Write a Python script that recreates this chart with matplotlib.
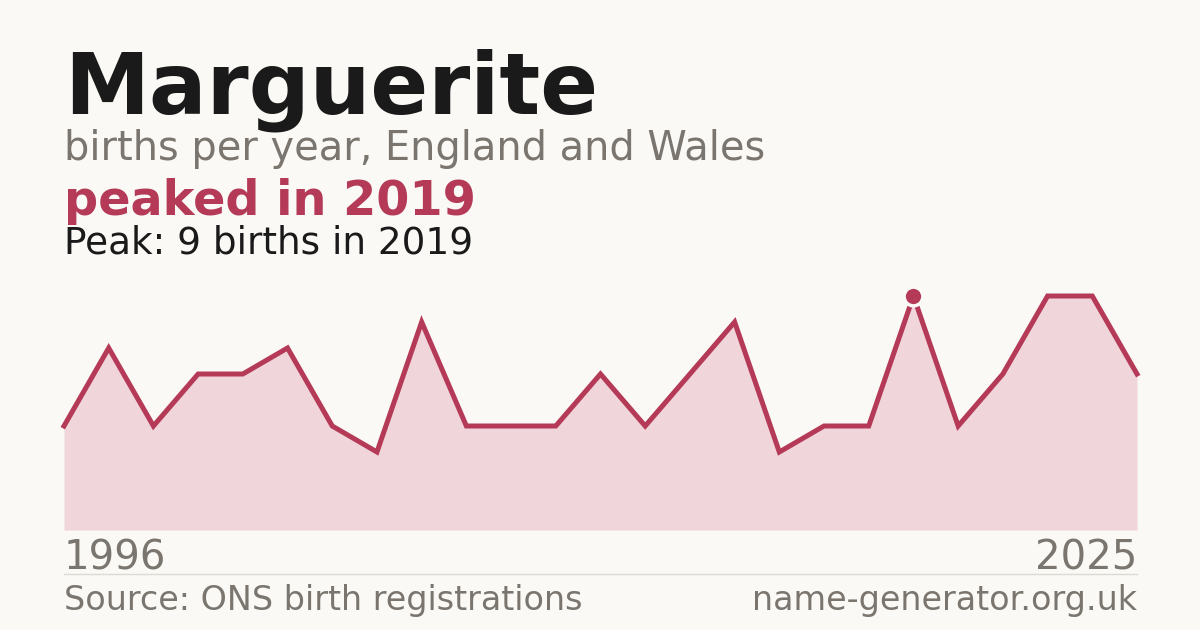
import numpy as np
from matplotlib import pyplot as plt

plt.rcParams['font.family'] = ['DejaVu Sans']

# data
name = 'Marguerite'
years = [1996, 1997, 1998, 2000, 2001, 2002, 2003, 2005, 2006, 2007, 2008,
         2010, 2011, 2012, 2013, 2014, 2015, 2016, 2018, 2019,
         2020, 2022, 2023, 2024, 2025]
births = [4, 7, 4, 6, 6, 7, 4, 3, 8, 4, 4,
          4, 6, 4, 6, 8, 3, 4, 4, 9,
          4, 6, 9, 9, 6]

bg = '#faf9f5'
crimson = '#b43a58'
fill = '#f0d5da'
grey = '#7a756e'
ink = '#1a1a1a'

W, H = 1200, 630
fig = plt.figure(figsize=(12, 6.3), dpi=100)
fig.patch.set_facecolor(bg)

def fx(px):
    return px / W

def fy(py):
    return 1 - py / H

ax = fig.add_axes([fx(64), fy(530), fx(1137) - fx(64), fy(296) - fy(530)])
ax.set_facecolor('none')
x = np.arange(len(births))
ax.fill_between(x, 0, births, color=fill, lw=0, zorder=1)
ax.plot(x, births, color=crimson, lw=3.6, solid_joinstyle='miter', zorder=2, clip_on=False)

peak_i = int(np.argmax(births))
ax.plot(x[peak_i], births[peak_i], 'o', ms=13.5, mfc=crimson, mec=bg, mew=2.5,
        zorder=3, clip_on=False)

ax.set_xlim(0, len(births) - 1)
ax.set_ylim(0, max(births))
ax.axis('off')

peak_year = years[peak_i]
fig.text(fx(64), fy(113), name, fontsize=61.5, fontweight='bold', color=ink, va='baseline')
fig.text(fx(64), fy(160), 'births per year, England and Wales', fontsize=28.7,
         color=grey, va='baseline')
fig.text(fx(64), fy(215), 'peaked in %d' % peak_year, fontsize=34.4, fontweight='bold',
         color=crimson, va='baseline')
fig.text(fx(64), fy(254), 'Peak: %d births in %d' % (births[peak_i], peak_year),
         fontsize=26.9, color=ink, va='baseline')

fig.text(fx(64), fy(570), str(years[0]), fontsize=29, color=grey, va='baseline')
fig.text(fx(1137), fy(570), str(years[-1]), fontsize=29, color=grey, va='baseline', ha='right')

fig.add_artist(plt.Line2D([fx(64), fx(1137)], [fy(574), fy(574)], color='#dddad4', lw=1))

fig.text(fx(64), fy(610), 'Source: ONS birth registrations', fontsize=24, color=grey,
         va='baseline')
fig.text(fx(1137), fy(610), 'name-generator.org.uk', fontsize=24, color=grey,
         va='baseline', ha='right')

fig.savefig('out.png', dpi=100, facecolor=bg)
